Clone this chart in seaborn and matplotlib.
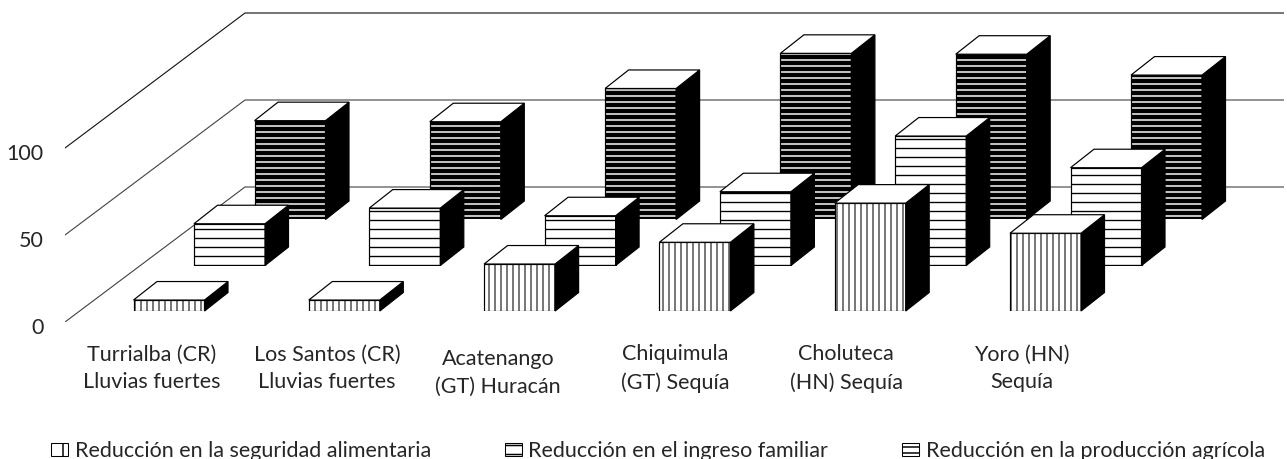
import matplotlib
matplotlib.use("Agg")
import matplotlib.pyplot as plt
import pandas as pd
import seaborn as sns
from matplotlib.patches import Patch
from matplotlib.transforms import ScaledTranslation

# values
lugares = ["Turrialba (CR)\nLluvias fuertes", "Los Santos (CR)\nLluvias fuertes", "Acatenango\n(GT) Huracán",
           "Chiquimula\n(GT) Sequía", "Choluteca\n(HN) Sequía", "Yoro (HN)\nSequía"]
seguridad = [6.3, 6.3, 27, 39.5, 62, 44.7]
ingreso = [24, 33, 28.6, 42.4, 74.4, 56.2]
produccion = [56.8, 56.2, 75.3, 95.5, 95, 83]
nombres = ["Reducción en la seguridad alimentaria", "Reducción en el ingreso familiar",
           "Reducción en la producción agrícola"]
ticks_y = [0, 50, 100]

# layout in pixels of the 1287x459 picture
W, H, DPI = 1287, 459, 108
PX_UNIT = 1.74        # px per 1 % on the y axis
STEP = 175.3          # px between two places
WALL_X, WALL_Y = 180, 135
SIDE_X, SIDE_Y = 23.5, 18.5
LABEL_X = [87, 262, 433, 610, 781, 957]
LABEL_PAD = [15, 15, 18, 15, 15, 15]
FONT = 14.3

sns.set_style("white")
plt.rcParams["font.family"] = ["Lato", "DejaVu Sans"]
plt.rcParams["font.size"] = FONT
fig = plt.figure(figsize=(W / DPI, H / DPI), dpi=DPI)


def place(left, base, width, top):
    # axes from pixel position, base and top are measured from the top of the picture
    ax = fig.add_axes([left / W, 1 - base / H, width / W, (base - top) / H])
    ax.patch.set_alpha(0)
    return ax


# back wall and floor lines, ticks sit on this axes
frame = place(65, 322, 1219, 0)
frame.set_xlim(0, 1219)
frame.set_ylim(0, 322 / PX_UNIT)
for v, col in zip(ticks_y, ["#444444", "#444444", "#111111"]):
    frame.plot([0, WALL_X, 1219], [v, v + WALL_Y / PX_UNIT, v + WALL_Y / PX_UNIT], color=col, lw=0.75)
sns.despine(ax=frame, left=True, bottom=True)
frame.set_yticks(ticks_y, [str(v) for v in ticks_y])
frame.tick_params(axis="y", length=0, pad=14.5, labelsize=FONT)
down = ScaledTranslation(0, -4 / DPI, fig.dpi_scale_trans)
for label in frame.get_yticklabels():
    label.set_transform(label.get_transform() + down)
frame.set_xticks(LABEL_X, lugares)
frame.tick_params(axis="x", length=0, labelsize=FONT)
for tick, pad in zip(frame.xaxis.get_major_ticks(), LABEL_PAD):
    tick.set_pad(pad)
    tick.label1.set_linespacing(1.5)

series = [
    (produccion, 254.5 - 52.15, 219.5, "---", 3.0),
    (ingreso, 194 - 52.15, 265.5, "--", 0.9),
    (seguridad, 133.5 - 52.15, 311, "|||", 0.7),
]
# back row first, so the front rows cover it
for vals, left, base, hatch, hatch_lw in series:
    ax = place(left, base, 6 * STEP, base - 120 * PX_UNIT)
    df = pd.DataFrame({"lugar": lugares, "valor": vals})
    sns.barplot(data=df, x="lugar", y="valor", ax=ax, color="white", saturation=1, width=71 / STEP,
                edgecolor="black", linewidth=0.8, hatch=hatch, errorbar=None)
    ax.set_xlim(-0.5, 5.5)
    ax.set_ylim(0, 120)
    ax.set_axis_off()
    dx, dy = SIDE_X / STEP, SIDE_Y / PX_UNIT
    for bar in list(ax.patches):
        bar.set_hatch_linewidth(hatch_lw)
        x0, w, h = bar.get_x(), bar.get_width(), bar.get_height()
        x1 = x0 + w
        ax.fill([x1, x1 + dx, x1 + dx, x1], [0, dy, h + dy, h], color="black", lw=0.8, clip_on=False)
        ax.fill([x0, x1, x1 + dx, x0 + dx], [h, h, h + dy, h + dy], facecolor="white", edgecolor="black",
                lw=0.8, clip_on=False)

handles = [Patch(facecolor="white", edgecolor="black", lw=0.7, hatch=h) for h in ["|", "--", "---"]]
fig.legend(handles, nombres, ncol=3, loc="lower left", bbox_to_anchor=(51 / W, -2 / H), frameon=False,
           fontsize=FONT, handlelength=0.8, handleheight=0.6, handletextpad=0.3, columnspacing=3.45,
           borderaxespad=0, borderpad=0)

fig.savefig("out.png", dpi=DPI)
